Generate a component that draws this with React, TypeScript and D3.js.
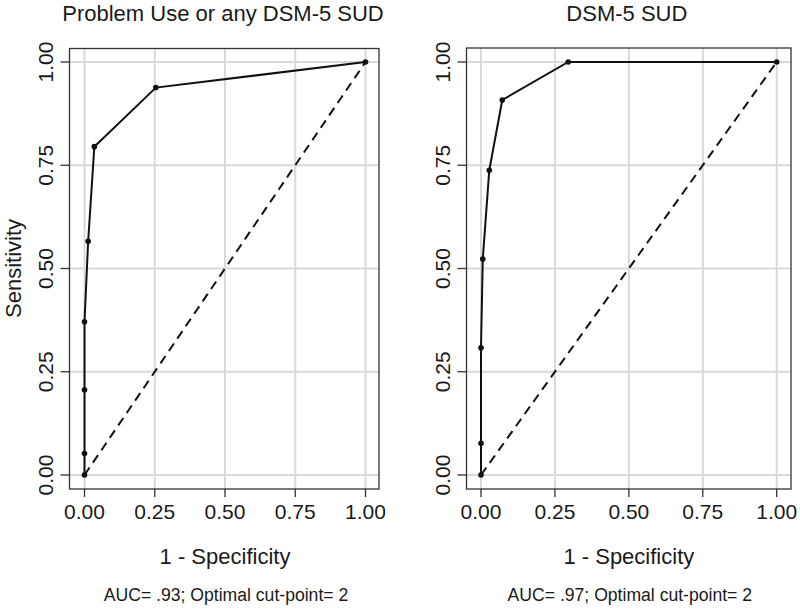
import React from 'react';
import * as d3 from 'd3';

// ROC curve points
const leftFpr = [0, 0, 0, 0, 0.013, 0.035, 0.254, 1];
const leftTpr = [0, 0.052, 0.206, 0.371, 0.566, 0.795, 0.938, 1];
const rightFpr = [0, 0, 0, 0.006, 0.028, 0.072, 0.295, 1];
const rightTpr = [0, 0.077, 0.308, 0.523, 0.738, 0.908, 1, 1];

const ticks = [0, 0.25, 0.5, 0.75, 1];
const tickLabels = ['0.00', '0.25', '0.50', '0.75', '1.00'];

const titles = ['Problem Use or any DSM-5 SUD', 'DSM-5 SUD'];
const footers = ['AUC= .93; Optimal cut-point= 2', 'AUC= .97; Optimal cut-point= 2'];

const FONT = 'Liberation Sans, Arial, sans-serif';
const TXT = '#1a1a1a';

type PanelProps = {
  fpr: number[];
  tpr: number[];
  title: string;
  footer: string;
  frame: [number, number, number, number]; // left, top, right, bottom
  xRange: [number, number];
  yLabel: boolean;
};

const Panel = ({ fpr, tpr, title, footer, frame, xRange, yLabel }: PanelProps) => {
  const [fl, ft, fr, fb] = frame;
  const x = d3.scaleLinear().domain([0, 1]).range(xRange);
  const y = d3.scaleLinear().domain([0, 1]).range([475, 62]);
  const pts = fpr.map((f, i) => [f, tpr[i]] as [number, number]);
  const line = d3.line<[number, number]>().x(d => x(d[0])).y(d => y(d[1]));
  const cx = (x(0) + x(1)) / 2;
  const cy = (y(0) + y(1)) / 2;

  return (
    <g>
      {/* grid */}
      {ticks.map(t => (
        <line key={'gx' + t} x1={x(t)} x2={x(t)} y1={ft} y2={fb} stroke="#d9d9d9" strokeWidth={2} />
      ))}
      {ticks.map(t => (
        <line key={'gy' + t} x1={fl} x2={fr} y1={y(t)} y2={y(t)} stroke="#d9d9d9" strokeWidth={2} />
      ))}
      {/* reference diagonal */}
      <line x1={x(0)} y1={y(0)} x2={x(1)} y2={y(1)} stroke="#111" strokeWidth={2} strokeDasharray="9,6" />
      {/* ROC curve */}
      <path d={line(pts) || ''} fill="none" stroke="#111" strokeWidth={2} />
      {pts.map((p, i) => (
        <circle key={i} cx={x(p[0])} cy={y(p[1])} r={2.8} fill="#111" />
      ))}
      {/* frame */}
      <rect x={fl} y={ft} width={fr - fl} height={fb - ft} fill="none" stroke="#333" strokeWidth={1.3} />
      {/* x axis */}
      {ticks.map((t, i) => (
        <g key={'xt' + t}>
          <line x1={x(t)} x2={x(t)} y1={fb} y2={fb + 8} stroke="#333" strokeWidth={1.3} />
          <text x={x(t)} y={519} textAnchor="middle" fontSize={21} fontFamily={FONT} fill={TXT}>
            {tickLabels[i]}
          </text>
        </g>
      ))}
      {/* y axis */}
      {ticks.map((t, i) => (
        <g key={'yt' + t}>
          <line x1={fl - 9} x2={fl} y1={y(t)} y2={y(t)} stroke="#333" strokeWidth={1.3} />
          <text
            transform={`translate(${fl - 17},${y(t)}) rotate(-90)`}
            textAnchor="middle"
            fontSize={21}
            fontFamily={FONT}
            fill={TXT}
          >
            {tickLabels[i]}
          </text>
        </g>
      ))}
      {yLabel && (
        <text
          transform={`translate(21,${cy}) rotate(-90)`}
          textAnchor="middle"
          fontSize={22}
          fontFamily={FONT}
          fill={TXT}
        >
          Sensitivity
        </text>
      )}
      <text x={cx - 2} y={21} textAnchor="middle" fontSize={22} fontFamily={FONT} fill={TXT}>
        {title}
      </text>
      <text x={cx} y={564} textAnchor="middle" fontSize={22} fontFamily={FONT} fill={TXT}>
        1 - Specificity
      </text>
      <text x={cx + 1} y={601} textAnchor="middle" fontSize={17.6} fontFamily={FONT} fill={TXT}>
        {footer}
      </text>
    </g>
  );
};

export default function App() {
  return (
    <svg width={800} height={609} style={{ position: 'absolute', left: 0, top: 0, background: '#fff' }}>
      <rect width={800} height={609} fill="#fff" />
      <Panel
        fpr={leftFpr}
        tpr={leftTpr}
        title={titles[0]}
        footer={footers[0]}
        frame={[69.5, 48.5, 379, 489]}
        xRange={[84.5, 365.5]}
        yLabel={true}
      />
      <Panel
        fpr={rightFpr}
        tpr={rightTpr}
        title={titles[1]}
        footer={footers[1]}
        frame={[466.5, 48, 791, 489]}
        xRange={[481, 776.7]}
        yLabel={false}
      />
    </svg>
  );
}
